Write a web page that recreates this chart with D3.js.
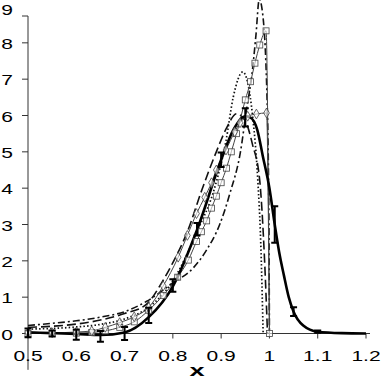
<!DOCTYPE html>
<html>
<head>
<meta charset="utf-8">
<script src="https://cdn.jsdelivr.net/npm/d3@7"></script>
<style>
  body { margin: 0; background: #fff; }
  svg { display: block; font-family: "Liberation Sans", Arial, sans-serif; }
</style>
</head>
<body>
<div id="viz"></div>
<script>
// x values and y values, one pair of arrays per curve

// thick solid curve (with error bars)
let exactX = [0.5, 0.55, 0.6, 0.65, 0.7, 0.75, 0.8, 0.85, 0.9, 0.925, 0.95, 0.96, 0.975, 0.986, 1.0, 1.011, 1.02, 1.03, 1.04, 1.05, 1.07, 1.1, 1.15, 1.2];
let exactY = [0.03, 0.01, -0.01, -0.04, 0.03, 0.45, 1.3, 2.85, 4.78, 5.6, 5.98, 5.95, 5.6, 4.9, 4.0, 3.0, 2.25, 1.6, 1.0, 0.6, 0.22, 0.05, 0.01, 0];

// error bars on the thick curve
let errX = [0.5, 0.55, 0.6, 0.65, 0.7, 0.75, 0.8, 0.85, 0.9, 0.95, 1.011, 1.05, 1.1];
let errY = [0.02, 0.0, -0.03, -0.08, 0.0, 0.5, 1.32, 2.87, 4.78, 5.95, 3.0, 0.6, 0.05];
let errSize = [0.12, 0.08, 0.14, 0.15, 0.18, 0.21, 0.17, 0.17, 0.2, 0.25, 0.5, 0.12, 0.03];

// thin line with square markers
let squareX = [0.5, 0.55, 0.6, 0.632, 0.66, 0.69, 0.72, 0.75, 0.78, 0.81, 0.832, 0.849, 0.859, 0.87, 0.88, 0.89, 0.9, 0.911, 0.921, 0.932, 0.95, 0.961, 0.97, 0.98, 0.993, 1.0];
let squareY = [0.0, 0.0, 0.01, 0.03, 0.07, 0.17, 0.32, 0.64, 1.05, 1.55, 2.02, 2.53, 2.8, 3.1, 3.45, 3.78, 4.15, 4.55, 5.0, 5.5, 6.43, 6.93, 7.44, 7.94, 8.33, 0];

// thin line with diamond markers
let diamondX = [0.5, 0.55, 0.6, 0.632, 0.66, 0.69, 0.72, 0.75, 0.78, 0.811, 0.83, 0.849, 0.866, 0.88, 0.89, 0.91, 0.928, 0.939, 0.955, 0.973, 0.994, 1.0];
let diamondY = [0.02, 0.02, 0.04, 0.07, 0.17, 0.3, 0.46, 0.72, 1.31, 2.1, 2.7, 3.3, 3.75, 4.15, 4.5, 5.05, 5.55, 5.8, 5.98, 6.04, 6.07, 0];

// long dashed curve
let dashX = [0.5, 0.55, 0.6, 0.65, 0.7, 0.745, 0.777, 0.8, 0.83, 0.86, 0.89, 0.911, 0.932, 0.95, 0.965, 0.98, 0.99, 0.996];
let dashY = [0.17, 0.2, 0.26, 0.37, 0.55, 0.8, 1.4, 1.95, 2.8, 3.95, 5.0, 5.65, 6.05, 5.85, 5.2, 4.2, 2.0, 0];

// dotted curve
let dotX = [0.5, 0.6, 0.65, 0.7, 0.75, 0.8, 0.85, 0.887, 0.91, 0.925, 0.945, 0.955, 0.965, 0.976, 0.982, 0.987];
let dotY = [0.12, 0.18, 0.25, 0.4, 0.72, 1.45, 2.8, 4.03, 5.3, 6.5, 7.2, 6.9, 6.0, 4.2, 2.5, 0];

// dash-dot curve
let dashDotX = [0.5, 0.55, 0.6, 0.65, 0.7, 0.745, 0.8, 0.842, 0.87, 0.897, 0.918, 0.94, 0.953, 0.964, 0.972, 0.979, 0.985, 0.995, 0.999, 1.0];
let dashDotY = [0.22, 0.28, 0.35, 0.45, 0.6, 0.88, 1.39, 1.8, 2.3, 3.0, 3.85, 5.0, 6.2, 7.15, 8.2, 9.2, 8.9, 6.5, 3.0, 0];

let xTicks = [0.5, 0.6, 0.7, 0.8, 0.9, 1, 1.1, 1.2];
let yTicks = [0, 1, 2, 3, 4, 5, 6, 7, 8, 9];

let width = 382;
let height = 381;
let stretch = 1.45; // the original lettering is wide, squeeze it sideways

let x = d3.scaleLinear().domain([0.5, 1.2]).range([28, 366]);
let y = d3.scaleLinear().domain([0, 9]).range([333.5, 6.5]);

let svg = d3
  .select("#viz")
  .append("svg")
  .attr("width", width)
  .attr("height", height);

// axes
let axisColor = "#333";

svg.append("line")
  .attr("x1", x(0.5)).attr("x2", 370)
  .attr("y1", y(0)).attr("y2", y(0))
  .attr("stroke", axisColor);

svg.append("line")
  .attr("x1", x(0.5)).attr("x2", x(0.5))
  .attr("y1", 16).attr("y2", y(-1))
  .attr("stroke", axisColor);

svg.selectAll(".xtick")
  .data(xTicks)
  .join("line")
  .attr("x1", (d) => x(d)).attr("x2", (d) => x(d))
  .attr("y1", y(0)).attr("y2", y(0) + 5)
  .attr("stroke", axisColor);

svg.selectAll(".xlabel")
  .data(xTicks)
  .join("text")
  .attr("transform", (d) => `translate(${x(d)},${y(0) + 27}) scale(${stretch},1)`)
  .attr("text-anchor", "middle")
  .attr("font-size", 14.5)
  .text((d) => d);

svg.selectAll(".ytick")
  .data(yTicks)
  .join("line")
  .attr("x1", x(0.5) - 6).attr("x2", x(0.5))
  .attr("y1", (d) => Math.max(y(d), 16)).attr("y2", (d) => Math.max(y(d), 16))
  .attr("stroke", axisColor);

svg.selectAll(".ylabel")
  .data(yTicks)
  .join("text")
  .attr("transform", (d) => `translate(13,${Math.max(y(d), 9) + 6}) scale(${stretch},1)`)
  .attr("text-anchor", "end")
  .attr("font-size", 14.5)
  .text((d) => d);

svg.append("text")
  .attr("transform", `translate(197,376) scale(1.6,1)`)
  .attr("text-anchor", "middle")
  .attr("font-size", 17)
  .attr("font-weight", "bold")
  .text("x");

// curves
let zipUp = (xs, ys) => xs.map((v, i) => [v, ys[i]]);

let line = d3
  .line()
  .x((d) => x(d[0]))
  .y((d) => y(d[1]))
  .curve(d3.curveMonotoneX);

let curves = [
  { pts: zipUp(dashDotX, dashDotY), w: 1.6, dash: "7,3,2,3", col: "#111" },
  { pts: zipUp(dashX, dashY), w: 1.6, dash: "9,4", col: "#111" },
  { pts: zipUp(dotX, dotY), w: 1.7, dash: "1.5,2.2", col: "#111" },
  { pts: zipUp(diamondX, diamondY), w: 1, dash: null, col: "#444" },
  { pts: zipUp(squareX, squareY), w: 1, dash: null, col: "#444" },
  { pts: zipUp(exactX, exactY), w: 2.6, dash: null, col: "#000" },
];

svg.selectAll(".curve")
  .data(curves)
  .join("path")
  .attr("fill", "none")
  .attr("stroke", (d) => d.col)
  .attr("stroke-width", (d) => d.w)
  .attr("stroke-dasharray", (d) => d.dash)
  .attr("d", (d) => line(d.pts));

// markers
svg.selectAll(".sq")
  .data(zipUp(squareX, squareY))
  .join("rect")
  .attr("x", (d) => x(d[0]) - 3)
  .attr("y", (d) => y(d[1]) - 3)
  .attr("width", 6)
  .attr("height", 6)
  .attr("fill", "#fff")
  .attr("fill-opacity", 0.6)
  .attr("stroke", "#444")
  .attr("stroke-width", 0.8);

svg.selectAll(".dm")
  .data(zipUp(diamondX.slice(0, -1), diamondY.slice(0, -1)))
  .join("path")
  .attr("transform", (d) => `translate(${x(d[0])},${y(d[1])})`)
  .attr("d", d3.symbol(d3.symbolDiamond, 28))
  .attr("fill", "#fff")
  .attr("fill-opacity", 0.6)
  .attr("stroke", "#444")
  .attr("stroke-width", 0.8);

// error bars
let errs = errX.map((v, i) => ({ x: v, y: errY[i], e: errSize[i] }));

svg.selectAll(".err")
  .data(errs)
  .join("path")
  .attr("fill", "none")
  .attr("stroke", "#000")
  .attr("stroke-width", 2)
  .attr("d", (d) => {
    let cx = x(d.x), y0 = y(d.y - d.e), y1 = y(d.y + d.e);
    return `M${cx - 3.5},${y0}H${cx + 3.5}M${cx},${y0}V${y1}M${cx - 3.5},${y1}H${cx + 3.5}`;
  });
</script>
</body>
</html>
